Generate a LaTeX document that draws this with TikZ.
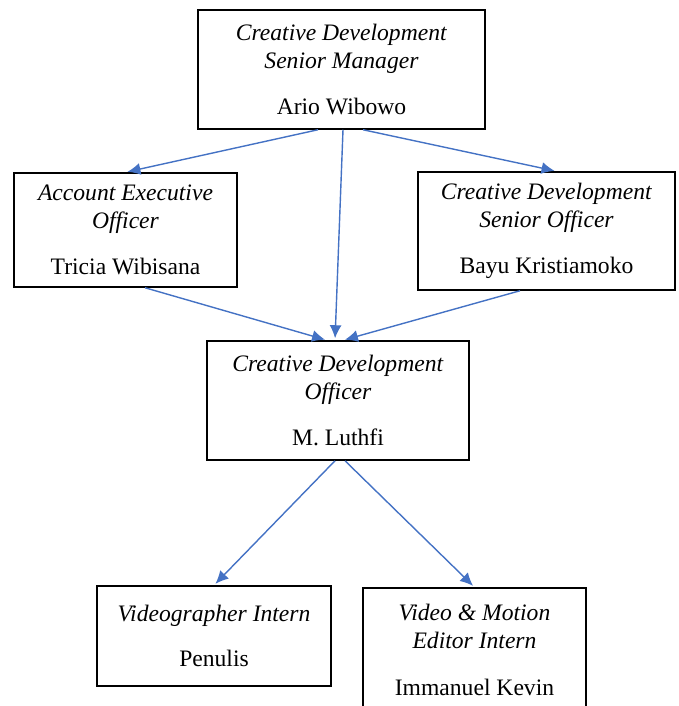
\documentclass[tikz,border=0pt]{standalone}
\usepackage{fontspec}
\setmainfont{Liberation Serif}
\usetikzlibrary{arrows.meta}
\definecolor{linkblue}{HTML}{4472C4}
\tikzset{
  post/.style={draw, line width=.75pt, align=center, inner sep=0pt, font=\fontsize{11.8}{13.8}\selectfont},
  link/.style={draw=linkblue, line width=.7pt, -{Latex[length=6.5pt,width=6pt]}, shorten >=1pt}
}
\begin{document}
\begin{tikzpicture}[x=0.5pt,y=-0.5pt]
			\useasboundingbox (0,0) rectangle (679,706);
			\node[post, minimum width=143.5pt, minimum height=59.5pt] (mgr) at (341.5,69.5) {\textit{Creative Development}\\\textit{Senior Manager}\\[9.5pt]Ario Wibowo};
			\node[post, minimum width=111.5pt, minimum height=57pt] (aeo) at (125.5,230) {\textit{Account Executive}\\\textit{Officer}\\[9.5pt]Tricia Wibisana};
			\node[post, minimum width=128.5pt, minimum height=59pt] (sdo) at (546.5,231) {\textit{Creative Development}\\\textit{Senior Officer}\\[9.5pt]Bayu Kristiamoko};
			\node[post, minimum width=131pt, minimum height=59.5pt] (cdo) at (338,400.5) {\textit{Creative Development}\\\textit{Officer}\\[9.5pt]M. Luthfi};
			\node[post, minimum width=117pt, minimum height=50pt] (vgi) at (214,636) {\textit{Videographer Intern}\\[9pt]Penulis};
			\node[post, minimum width=111.5pt, minimum height=62pt] (vme) at (474.5,650) {\textit{Video \& Motion}\\\textit{Editor Intern}\\[9.5pt]Immanuel Kevin};
			
			\draw[link] ([xshift=-11.75pt]mgr.south) -- (aeo.north);
			\draw[link] ([xshift=.75pt]mgr.south) -- ([xshift=-1.5pt]cdo.north);
			\draw[link] ([xshift=10.75pt]mgr.south) -- ([xshift=5pt]sdo.north);
			\draw[link] ([xshift=9.75pt]aeo.south) -- ([xshift=-5.5pt]cdo.north);
			\draw[link] ([xshift=-13.25pt]sdo.south) -- ([xshift=2.5pt]cdo.north);
			\draw[link] ([xshift=-1.5pt]cdo.south) -- (vgi.north);
			\draw[link] ([xshift=3.5pt]cdo.south) -- (vme.north);
\end{tikzpicture}
\end{document}
